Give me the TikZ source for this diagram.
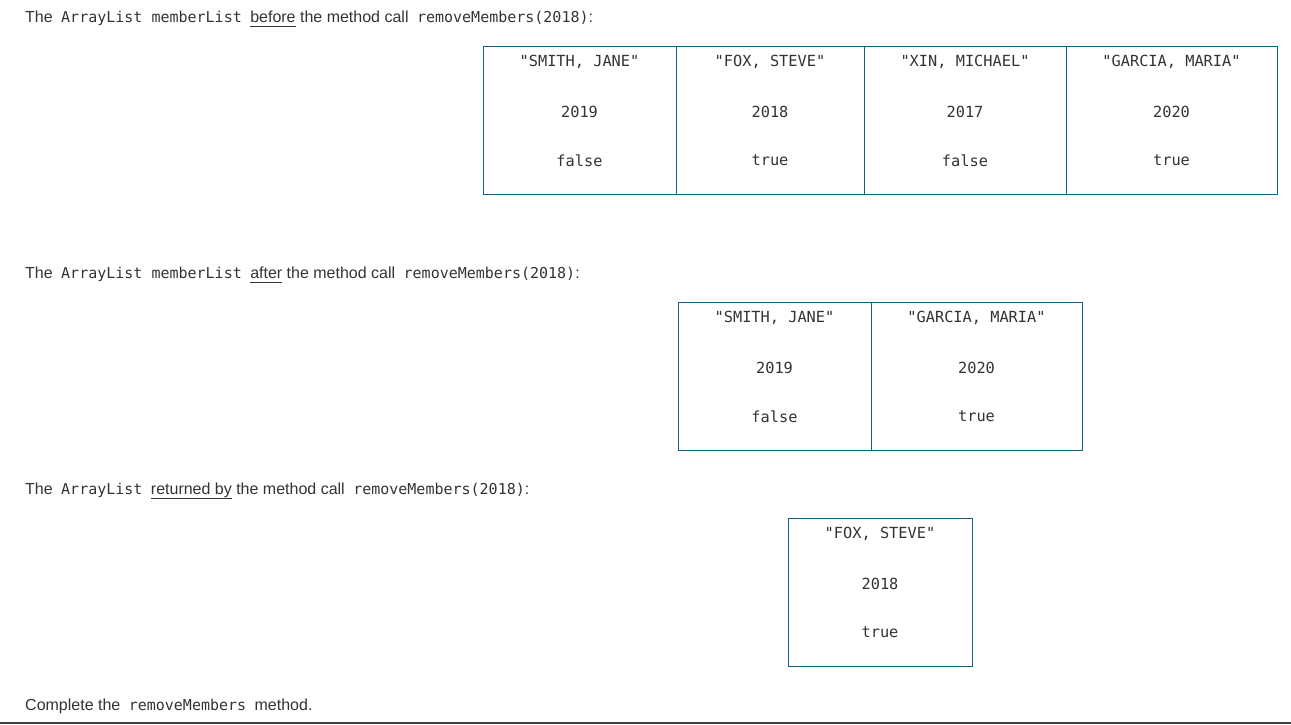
\documentclass[tikz,border=0pt]{standalone}
\usepackage{fontspec}
\setmainfont{Liberation Sans}
\setmonofont{DejaVu Sans Mono}
\definecolor{boxblue}{HTML}{10628C}
\definecolor{txt}{HTML}{333333}
\newcommand\myuline[1]{\setbox0\hbox{#1}\rlap{\rule[-4.5pt]{\wd0}{1pt}}\box0\relax}
\newcommand\cd[1]{\hspace{4pt}{\ttfamily\fontsize{15}{17}\selectfont #1}\hspace{4pt}}
\newcommand\cdd[1]{\hspace{4pt}{\ttfamily\fontsize{15}{17}\selectfont #1}}
\newcommand\mycell[7]{%
  \node[cellbox, minimum width=#3-#2, minimum height=148, anchor=north west] (#1) at (#2,#4) {};
  \node[celltext] (#1a) at ($(#1.north)+(0,16)$) {#5};
  \node[celltext] (#1b) at ($(#1.north)+(0,65.5)$) {#6};
  \node[celltext] (#1c) at ($(#1.north)+(0,114.5)$) {#7};
}
\usetikzlibrary{calc}
\begin{document}
\begin{tikzpicture}[x=1pt,y=-1pt,
  cellbox/.style={draw=boxblue, line width=1pt, inner sep=0pt, outer sep=0pt},
  celltext/.style={font=\ttfamily\fontsize{15.3}{17}\selectfont, text=txt, inner sep=0pt},
  para/.style={anchor=base west, inner sep=0pt, text=txt, font=\fontsize{16}{19}\selectfont}]
\useasboundingbox (0,0) rectangle (1291,724);
\node[para] (l1) at (25,22) {The \cd{ArrayList memberList} \myuline{before} the method call \cdd{removeMembers(2018)}:};
\mycell{a1}{483}{676}{46}{"SMITH, JANE"}{2019}{false}
\mycell{a2}{676}{864}{46}{"FOX, STEVE"}{2018}{true}
\mycell{a3}{864}{1066}{46}{"XIN, MICHAEL"}{2017}{false}
\mycell{a4}{1066}{1277}{46}{"GARCIA, MARIA"}{2020}{true}
\node[para] (l2) at (25,278) {The \cd{ArrayList memberList} \myuline{after} the method call \cdd{removeMembers(2018)}:};
\mycell{b1}{678}{871}{302}{"SMITH, JANE"}{2019}{false}
\mycell{b2}{871}{1082}{302}{"GARCIA, MARIA"}{2020}{true}
\node[para] (l3) at (25,494) {The \cd{ArrayList} \myuline{returned by} the method call \cdd{removeMembers(2018)}:};
\mycell{c1}{788}{972}{518}{"FOX, STEVE"}{2018}{true}
\node[para] (l4) at (25,710) {Complete the \cd{removeMembers} method.};
\coordinate (bl) at (0,722.5);
\coordinate (br) at (1291,722.5);
\draw[line width=2pt, draw=black!75] (bl) -- (br);
\end{tikzpicture}
\end{document}
